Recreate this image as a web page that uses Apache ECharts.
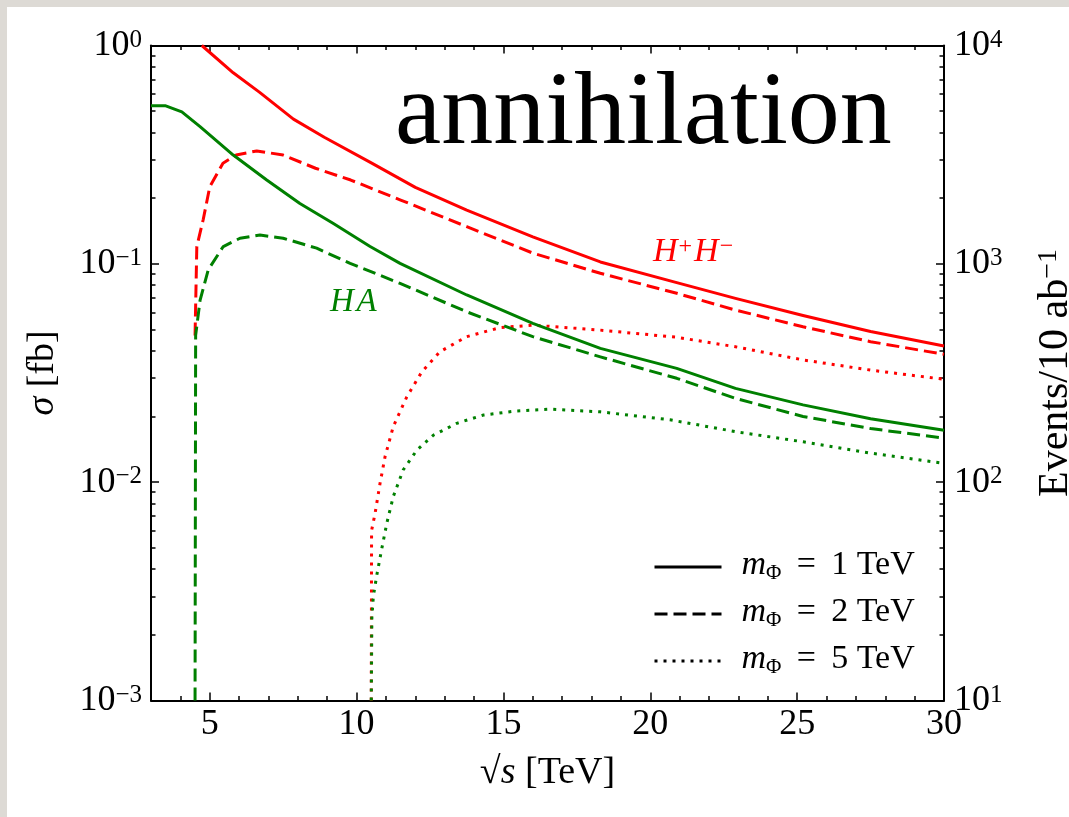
<!DOCTYPE html>
<html>
<head>
<meta charset="utf-8">
<script src="https://cdn.jsdelivr.net/npm/echarts@6.0.0/dist/echarts.min.js"></script>
<style>
html, body { margin: 0; padding: 0; background: #dddad5; }
#main { position: absolute; left: 7px; top: 7px; width: 1062px; height: 810px; background: #fff; }
</style>
</head>
<body>
<div id="main"></div>
<script>
// sqrt(s) in TeV, sigma in fb
var hcSqrtS1 = [4.73, 5.8, 6.7, 7.85, 8.9, 10.5, 12.0, 13.75, 16.0, 18.3, 20.9, 22.9, 25.2, 27.5, 30];
var hcSigma1 = [1.0, 0.75, 0.61, 0.46, 0.38, 0.29, 0.224, 0.176, 0.133, 0.102, 0.082, 0.0695, 0.058, 0.049, 0.042];

var hcSqrtS2 = [4.5, 4.56, 4.78, 5.0, 5.45, 5.9, 6.6, 7.5, 8.6, 9.8, 11.5, 13.75, 16.0, 18.3, 20.9, 22.9, 25.2, 27.5, 30];
var hcSigma2 = [0.047, 0.12, 0.16, 0.225, 0.289, 0.315, 0.329, 0.315, 0.274, 0.242, 0.196, 0.148, 0.112, 0.0905, 0.0733, 0.0614, 0.0515, 0.044, 0.0385];

var hcSqrtS5 = [10.5, 10.51, 10.63, 10.8, 10.97, 11.25, 11.71, 12.22, 12.84, 13.75, 14.88, 16.0, 18.3, 20.9, 22.9, 25.2, 27.5, 30];
var hcSigma5 = [0.001, 0.006, 0.0072, 0.0099, 0.0131, 0.018, 0.0246, 0.032, 0.0396, 0.0464, 0.051, 0.0524, 0.0497, 0.0461, 0.0417, 0.0363, 0.0326, 0.0296];

var haSqrtS1 = [3.0, 3.48, 4.05, 4.67, 5.8, 6.94, 8.07, 9.21, 10.46, 11.48, 13.75, 16.0, 18.3, 20.9, 22.9, 25.2, 27.5, 30];
var haSigma1 = [0.53, 0.53, 0.497, 0.425, 0.315, 0.242, 0.189, 0.153, 0.12, 0.1005, 0.072, 0.0534, 0.041, 0.0332, 0.0269, 0.0226, 0.0195, 0.0173];

var haSqrtS2 = [4.5, 4.52, 4.67, 4.95, 5.46, 6.03, 6.71, 7.5, 8.64, 9.78, 11.48, 13.75, 16.0, 18.3, 20.9, 22.9, 25.2, 27.5, 30];
var haSigma2 = [0.001, 0.047, 0.068, 0.094, 0.12, 0.131, 0.1355, 0.131, 0.118, 0.1005, 0.0814, 0.0603, 0.0464, 0.0375, 0.0299, 0.0242, 0.02, 0.0176, 0.0159];

var haSqrtS5 = [10.5, 10.52, 10.57, 10.68, 10.85, 11.03, 11.25, 11.59, 12.05, 12.61, 13.41, 14.32, 15.45, 16.59, 18.3, 20.67, 22.94, 25.21, 27.48, 30];
var haSigma5 = [0.001, 0.0024, 0.003, 0.0037, 0.0049, 0.0065, 0.0086, 0.0114, 0.014, 0.0164, 0.0186, 0.0203, 0.0212, 0.0216, 0.021, 0.0193, 0.017, 0.0153, 0.0136, 0.0122];

var masses = ['1', '2', '5'];
var xMajor = [5, 10, 15, 20, 25, 30];
var sigmaMajor = [0.001, 0.01, 0.1, 1];
var eventsMajor = [10, 100, 1000, 10000];
var minorSteps = [2, 3, 4, 5, 6, 7, 8, 9];

var FONT = 'Liberation Serif';
var RED = '#ff0000';
var GREEN = '#008000';
var DASH = [13, 6];
var DOT = [3, 6];
var LW = 3;

function zip(xs, ys) {
    return xs.map(function (x, i) { return [x, ys[i]]; });
}
function minorTicks(decades) {
    var out = [];
    decades.forEach(function (d) {
        minorSteps.forEach(function (m) { out.push(d * m); });
    });
    return out;
}
var sigmaMinor = minorTicks([0.001, 0.01, 0.1]);
var eventsMinor = minorTicks([10, 100, 1000]);

function powLabel(v) {
    var e = Math.round(Math.log10(v));
    return '{b|10}{s|' + (e < 0 ? '\u2212' + (-e) : e) + '}';
}
var powRich = {
    b: {fontFamily: FONT, fontSize: 36, color: '#000', lineHeight: 36, padding: [9, 0, 0, 0], verticalAlign: 'bottom'},
    s: {fontFamily: FONT, fontSize: 25, color: '#000', lineHeight: 25, verticalAlign: 'top'}
};

var frame = {show: true, onZero: false, lineStyle: {color: '#000', width: 2}};
var tickStyle = {color: '#000', width: 1.5};

function curve(data, color, type) {
    return {
        type: 'line', data: data, symbol: 'none', showSymbol: false, clip: true,
        xAxisIndex: 0, yAxisIndex: 0, silent: true,
        lineStyle: {color: color, width: LW, type: type, cap: 'butt', join: 'round'},
        itemStyle: {color: color}
    };
}
function legendDummy(name, type) {
    return {
        type: 'line', name: name, data: [], symbol: 'none',
        xAxisIndex: 0, yAxisIndex: 0,
        lineStyle: {color: '#000', width: LW, type: type, cap: 'butt'},
        itemStyle: {color: 'rgba(0,0,0,0)'}
    };
}

option = {
    animation: false,
    backgroundColor: '#fff',
    grid: {left: 144, top: 38.5, right: 125, bottom: 116.5, containLabel: false, outerBoundsMode: 'none'},
    legend: {
        data: masses,
        orient: 'vertical',
        left: 641,
        top: 536,
        itemWidth: 67,
        itemHeight: 14,
        itemGap: 9,
        selectedMode: false,
        itemStyle: {color: 'rgba(0,0,0,0)', borderWidth: 0, opacity: 0},
        lineStyle: {width: LW},
        formatter: function (name) {
            return '{i|m}{sub|\u03a6}{t| \u2009=\u2009 ' + name + ' TeV}';
        },
        textStyle: {
            padding: [0, 0, 0, 15],
            rich: {
                i: {fontFamily: FONT, fontStyle: 'italic', fontSize: 34, color: '#000', lineHeight: 34, padding: [0, 0, 4, 0]},
                sub: {fontFamily: FONT, fontSize: 21, color: '#000', lineHeight: 21, verticalAlign: 'bottom'},
                t: {fontFamily: FONT, fontSize: 34, color: '#000', lineHeight: 34, padding: [0, 0, 4, 0]}
            }
        }
    },
    xAxis: [
        {
            type: 'value', min: 3, max: 30, interval: 1, position: 'bottom',
            axisLine: frame,
            axisTick: {show: true, inside: true, length: 4.5, lineStyle: tickStyle},
            axisLabel: {show: true, customValues: xMajor, margin: 6, fontFamily: FONT, fontSize: 36, color: '#000'},
            splitLine: {show: false},
            name: '{t|\u221a}{i|s}{t| [TeV]}',
            nameLocation: 'middle',
            nameGap: 54,
            nameTextStyle: {
                rich: {
                    t: {fontFamily: FONT, fontSize: 38, color: '#000'},
                    i: {fontFamily: FONT, fontStyle: 'italic', fontSize: 38, color: '#000'}
                }
            }
        },
        {
            type: 'value', min: 3, max: 30, position: 'bottom',
            axisLine: {show: false},
            axisTick: {show: true, inside: true, length: 8, lineStyle: tickStyle, customValues: xMajor},
            axisLabel: {show: false},
            splitLine: {show: false}
        },
        {
            type: 'value', min: 3, max: 30, interval: 1, position: 'top',
            axisLine: frame,
            axisTick: {show: true, inside: true, length: 4.5, lineStyle: tickStyle},
            axisLabel: {show: false},
            splitLine: {show: false}
        },
        {
            type: 'value', min: 3, max: 30, position: 'top',
            axisLine: {show: false},
            axisTick: {show: true, inside: true, length: 8, lineStyle: tickStyle, customValues: xMajor},
            axisLabel: {show: false},
            splitLine: {show: false}
        }
    ],
    yAxis: [
        {
            type: 'log', logBase: 10, min: 0.001, max: 1, position: 'left',
            axisLine: frame,
            axisTick: {show: true, inside: true, length: 8, lineStyle: tickStyle, customValues: sigmaMajor},
            axisLabel: {show: true, customValues: sigmaMajor, margin: 9, formatter: powLabel, rich: powRich},
            splitLine: {show: false},
            name: '{i|\u03c3}{t| [fb]}',
            nameLocation: 'middle',
            nameRotate: 90,
            nameGap: 89,
            nameTextStyle: {
                rich: {
                    t: {fontFamily: FONT, fontSize: 38, color: '#000'},
                    i: {fontFamily: FONT, fontStyle: 'italic', fontSize: 38, color: '#000'}
                }
            }
        },
        {
            type: 'log', logBase: 10, min: 10, max: 10000, position: 'right',
            axisLine: frame,
            axisTick: {show: true, inside: true, length: 8, lineStyle: tickStyle, customValues: eventsMajor},
            axisLabel: {show: true, customValues: eventsMajor, margin: 10, formatter: powLabel, rich: powRich},
            splitLine: {show: false},
            name: '{t|Events/10 ab}{s|\u22121}',
            nameLocation: 'middle',
            nameRotate: 90,
            nameGap: 91,
            nameTextStyle: {
                rich: {
                    t: {fontFamily: FONT, fontSize: 42, color: '#000', lineHeight: 42, padding: [9, 0, 0, 0], verticalAlign: 'bottom'},
                    s: {fontFamily: FONT, fontSize: 28, color: '#000', lineHeight: 28, verticalAlign: 'top'}
                }
            }
        },
        {
            type: 'log', logBase: 10, min: 0.001, max: 1, position: 'left',
            axisLine: {show: false},
            axisTick: {show: true, inside: true, length: 4.5, lineStyle: tickStyle, customValues: sigmaMinor},
            axisLabel: {show: false},
            splitLine: {show: false}
        },
        {
            type: 'log', logBase: 10, min: 10, max: 10000, position: 'right',
            axisLine: {show: false},
            axisTick: {show: true, inside: true, length: 4.5, lineStyle: tickStyle, customValues: eventsMinor},
            axisLabel: {show: false},
            splitLine: {show: false}
        }
    ],
    series: [
        curve(zip(hcSqrtS1, hcSigma1), RED, 'solid'),
        curve(zip(hcSqrtS2, hcSigma2), RED, DASH),
        curve(zip(hcSqrtS5, hcSigma5), RED, DOT),
        curve(zip(haSqrtS1, haSigma1), GREEN, 'solid'),
        curve(zip(haSqrtS2, haSigma2), GREEN, DASH),
        curve(zip(haSqrtS5, haSigma5), GREEN, DOT),
        legendDummy('1', 'solid'),
        legendDummy('2', DASH),
        legendDummy('5', DOT)
    ],
    graphic: [
        {
            type: 'text', silent: true,
            style: {x: 388, y: 109, text: 'annihilation', fill: '#000', font: '104px "Liberation Serif"', verticalAlign: 'middle'}
        },
        {
            type: 'text', silent: true,
            style: {
                x: 646, y: 228, verticalAlign: 'top',
                text: '{h|H}{s|+}{h|H}{s|\u2212}',
                rich: {
                    h: {fontFamily: FONT, fontStyle: 'italic', fontSize: 34, fill: RED, lineHeight: 34, padding: [7, 0, 0, 0], verticalAlign: 'bottom'},
                    s: {fontFamily: FONT, fontSize: 24, fill: RED, lineHeight: 24, verticalAlign: 'top', padding: [0, 2, 0, 1]}
                }
            }
        },
        {
            type: 'text', silent: true,
            style: {x: 323, y: 279, verticalAlign: 'top', text: 'H\u200aA', fill: GREEN, font: 'italic 33px "Liberation Serif"'}
        }
    ]
};
echarts.init(document.getElementById('main')).setOption(option);
</script>
</body>
</html>
